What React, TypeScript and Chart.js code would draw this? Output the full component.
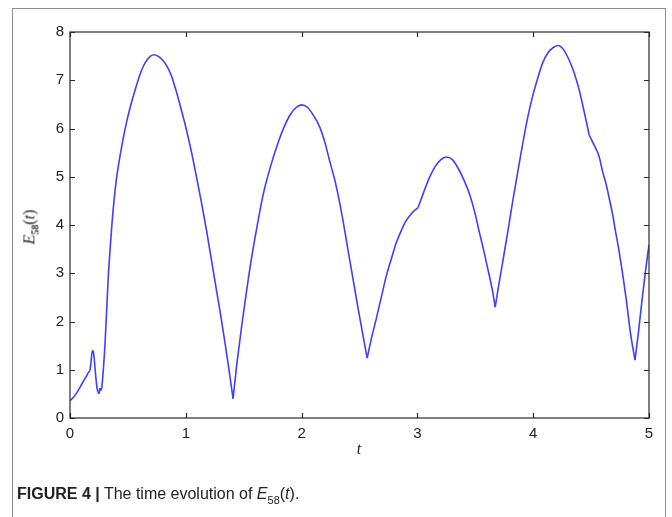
import React, { useEffect, useRef } from "react";
import { Chart, registerables } from "chart.js";

Chart.register(...registerables);

const T_VALUES: number[] = [
  0, 0.03, 0.06, 0.09, 0.12, 0.145, 0.158, 0.172, 0.18, 0.188, 0.196, 0.204, 0.213, 0.223, 0.235, 0.25,
  0.258, 0.266, 0.275, 0.288, 0.302, 0.316, 0.33, 0.345, 0.36, 0.38, 0.402, 0.43, 0.46, 0.495, 0.532,
  0.57, 0.603, 0.635, 0.665, 0.695, 0.725, 0.76, 0.795, 0.833, 0.875, 0.92, 0.96, 1.006, 1.05, 1.092,
  1.135, 1.178, 1.22, 1.264, 1.3, 1.336, 1.37, 1.408, 1.44, 1.48, 1.52, 1.56, 1.61, 1.667, 1.73, 1.796,
  1.85, 1.9, 1.95, 2.0, 2.05, 2.1, 2.155, 2.2, 2.24, 2.29, 2.33, 2.37, 2.41, 2.45, 2.485, 2.525, 2.566,
  2.6, 2.644, 2.69, 2.73, 2.775, 2.816, 2.86, 2.9, 2.95, 2.985, 3.005, 3.05, 3.1, 3.15, 3.2, 3.25, 3.3,
  3.36, 3.4, 3.45, 3.5, 3.53, 3.57, 3.61, 3.645, 3.672, 3.7, 3.735, 3.78, 3.82, 3.87, 3.91, 3.95, 3.994,
  4.04, 4.08, 4.13, 4.18, 4.215, 4.26, 4.31, 4.35, 4.397, 4.44, 4.483, 4.525, 4.569, 4.6, 4.627, 4.655,
  4.684, 4.71, 4.74, 4.77, 4.8, 4.84, 4.879, 4.91, 4.94, 4.97, 5.0,
];

const E58_VALUES: number[] = [
  0.36, 0.43, 0.53, 0.65, 0.78, 0.88, 0.94, 0.98, 1.12, 1.32, 1.4, 1.34, 1.12, 0.85, 0.6, 0.5,
  0.62, 0.57, 0.63, 1.0, 1.52, 2.2, 2.9, 3.45, 3.95, 4.5, 4.97, 5.4, 5.8, 6.2, 6.55,
  6.86, 7.11, 7.3, 7.42, 7.5, 7.53, 7.5, 7.43, 7.31, 7.1, 6.75, 6.4, 5.97, 5.5, 5.0,
  4.47, 3.9, 3.3, 2.66, 2.15, 1.6, 1.05, 0.4, 1.1, 1.86, 2.55, 3.2, 3.9, 4.62, 5.2, 5.7,
  6.04, 6.28, 6.43, 6.49, 6.44, 6.28, 6.04, 5.72, 5.35, 4.9, 4.45, 3.92, 3.35, 2.8, 2.31, 1.78, 1.24,
  1.62, 2.05, 2.52, 2.93, 3.3, 3.62, 3.88, 4.08, 4.24, 4.32, 4.36, 4.65, 4.96, 5.2, 5.35, 5.41, 5.36,
  5.14, 4.94, 4.64, 4.22, 3.9, 3.5, 3.07, 2.68, 2.3, 2.72, 3.21, 3.85, 4.45, 5.15, 5.69, 6.2, 6.66,
  7.05, 7.35, 7.58, 7.69, 7.72, 7.64, 7.42, 7.18, 6.8, 6.35, 5.87, 5.66, 5.42, 5.1, 4.87, 4.57,
  4.24, 3.88, 3.48, 3.02, 2.52, 1.76, 1.2, 1.8, 2.45, 3.05, 3.59,
];

// t values where the curve has a cusp or kink (smoothing is not carried across them)
const KINK_T: number[] = [0.172, 0.25, 0.258, 0.266, 0.275, 1.408, 2.566, 3.005, 3.672, 4.483, 4.879];

const X_TICKS: number[] = [0, 1, 2, 3, 4, 5];
const Y_TICKS: number[] = [0, 1, 2, 3, 4, 5, 6, 7, 8];

const boxPlugin = {
  id: "matlabBox",
  afterDraw(chart: any) {
    const { ctx, chartArea } = chart;
    const { left, right, top, bottom } = chartArea;
    const xs = chart.scales.x;
    const ys = chart.scales.y;
    const len = 5;
    ctx.save();
    ctx.strokeStyle = "#2a2a2a";
    ctx.lineWidth = 1.2;
    ctx.strokeRect(left, top, right - left, bottom - top);
    ctx.beginPath();
    X_TICKS.forEach((v) => {
      const px = Math.round(xs.getPixelForValue(v)) + 0.5;
      ctx.moveTo(px, bottom);
      ctx.lineTo(px, bottom - len);
      ctx.moveTo(px, top);
      ctx.lineTo(px, top + len);
    });
    Y_TICKS.forEach((v) => {
      const py = Math.round(ys.getPixelForValue(v)) + 0.5;
      ctx.moveTo(left, py);
      ctx.lineTo(left + len, py);
      ctx.moveTo(right, py);
      ctx.lineTo(right - len, py);
    });
    ctx.stroke();
    ctx.restore();
  },
};

function buildSegments() {
  const segs: { x: number; y: number }[][] = [];
  let cur: { x: number; y: number }[] = [];
  T_VALUES.forEach((t, i) => {
    const p = { x: t, y: E58_VALUES[i] };
    cur.push(p);
    if (KINK_T.includes(t) && i > 0 && i < T_VALUES.length - 1) {
      segs.push(cur);
      cur = [p];
    }
  });
  if (cur.length > 1) segs.push(cur);
  return segs;
}

export default function App() {
  const canvasRef = useRef<HTMLCanvasElement | null>(null);

  useEffect(() => {
    if (!canvasRef.current) return;
    const segments = buildSegments();
    const chart = new Chart(canvasRef.current, {
      type: "line",
      data: {
        datasets: segments.map((seg) => ({
          data: seg,
          borderColor: "#3f3fff",
          borderWidth: 1.6,
          pointRadius: 0,
          cubicInterpolationMode: "monotone" as const,
          fill: false,
        })),
      },
      options: {
        animation: false,
        responsive: false,
        devicePixelRatio: 1,
        layout: { padding: { left: 0, right: 23, top: 32, bottom: 0 } },
        plugins: { legend: { display: false }, tooltip: { enabled: false } },
        scales: {
          x: {
            type: "linear",
            min: 0,
            max: 5,
            afterBuildTicks: (s: any) => {
              s.ticks = X_TICKS.map((v) => ({ value: v }));
            },
            afterFit: (s: any) => {
              s.height = 99;
            },
            grid: { display: false, drawTicks: false },
            border: { display: false },
            ticks: {
              padding: 7,
              color: "#222",
              font: { family: "'Liberation Sans', Arial, sans-serif", size: 15 },
              maxRotation: 0,
            },
          },
          y: {
            type: "linear",
            min: 0,
            max: 8,
            afterBuildTicks: (s: any) => {
              s.ticks = Y_TICKS.map((v) => ({ value: v }));
            },
            afterFit: (s: any) => {
              s.width = 70;
            },
            grid: { display: false, drawTicks: false },
            border: { display: false },
            ticks: {
              padding: 6,
              color: "#222",
              font: { family: "'Liberation Sans', Arial, sans-serif", size: 15 },
            },
          },
        },
      },
      plugins: [boxPlugin],
    });
    return () => chart.destroy();
  }, []);

  return (
    <div
      style={{
        position: "absolute",
        left: 0,
        top: 0,
        width: 672,
        height: 517,
        overflow: "hidden",
        background: "#fff",
      }}
    >
      <div
        style={{
          position: "absolute",
          left: 12,
          top: 8,
          width: 654,
          height: 560,
          border: "1px solid #8c8c8c",
          boxSizing: "border-box",
        }}
      />
      <canvas
        ref={canvasRef}
        width={672}
        height={517}
        style={{ position: "absolute", left: 0, top: 0, width: 672, height: 517 }}
      />
      <div
        style={{
          position: "absolute",
          left: 31,
          top: 227,
          transform: "translate(-50%, -50%) rotate(-90deg)",
          fontFamily: "'Liberation Serif', 'DejaVu Serif', serif",
          fontSize: 16,
          color: "#222",
          whiteSpace: "nowrap",
          lineHeight: 1,
        }}
      >
        <i>E</i>
        <sub style={{ fontSize: 10, fontWeight: "bold" }}>58</sub>(<i>t</i>)
      </div>
      <div
        style={{
          position: "absolute",
          left: 359,
          top: 449,
          transform: "translate(-50%, -50%)",
          fontFamily: "'Liberation Serif', 'DejaVu Serif', serif",
          fontStyle: "italic",
          fontSize: 16,
          color: "#222",
          lineHeight: 1,
        }}
      >
        t
      </div>
      <div
        style={{
          position: "absolute",
          left: 17,
          top: 496,
          transform: "translateY(-50%)",
          fontFamily: "'Liberation Sans', Arial, sans-serif",
          fontSize: 16,
          color: "#222",
          whiteSpace: "nowrap",
          lineHeight: 1,
        }}
      >
        <b>FIGURE 4 |</b> The time evolution of <i>E</i>
        <sub style={{ fontSize: 11 }}>58</sub>(<i>t</i>).
      </div>
    </div>
  );
}
